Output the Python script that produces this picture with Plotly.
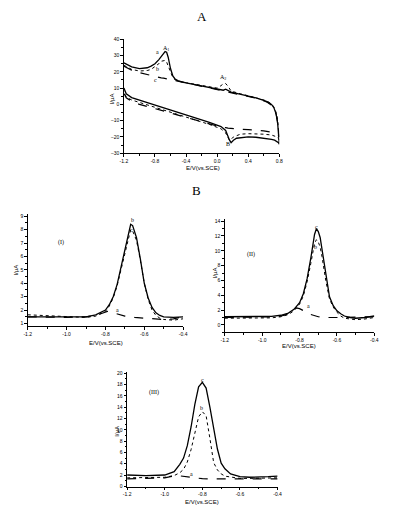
import plotly.graph_objects as go

# ---------------- Panel A: cyclic voltammograms ----------------
cv_x_up = [-1.2, -1.15, -1.1, -1.0, -0.9, -0.85, -0.8, -0.75, -0.72, -0.69, -0.67, -0.65, -0.63, -0.6, -0.57, -0.54, -0.5,
           -0.4, -0.3, -0.2, -0.1, 0.0, 0.05, 0.08, 0.11, 0.14, 0.18, 0.25, 0.3, 0.4, 0.5, 0.6, 0.65, 0.7, 0.73, 0.76, 0.78, 0.8]
cv_a_up = [25.5, 24, 23, 22, 22.5, 23.5, 25, 27.5, 29.5, 31.5, 32.5, 32, 29, 22, 17.5, 15.5, 14.5,
           13.2, 12.2, 11.2, 10.2, 9.2, 8.8, 8.7, 9.3, 8.6, 7.6, 6.8, 6.3, 5.2, 4.0, 2.5, 1.5, 0, -2, -6, -12, -24]
cv_b_up = [24, 22.5, 21.5, 20.5, 20.8, 21.5, 23, 25, 26.5, 27, 27, 26, 23.5, 19, 16.5, 15.2, 14.3,
           13.3, 12.4, 11.5, 10.6, 10.0, 11.5, 12.7, 12.8, 11.2, 8.2, 7.0, 6.5, 5.3, 4.1, 2.7, 1.7, 0.3, -1.5, -5, -10, -22]
cv_c_up = [23.5, 22, 21, 19.5, 18.2, 17.6, 17.0, 16.6, 16.3, 16.1, 16.0, 15.8, 15.6, 15.3, 15.0, 14.6, 14.2,
           13.2, 12.2, 11.2, 10.2, 9.2, 8.7, 8.4, 8.1, 7.8, 7.4, 6.7, 6.2, 5.1, 3.8, 2.2, 1.2, -0.5, -2.5, -6, -11, -20]

cv_x_dn = [0.8, 0.79, 0.77, 0.74, 0.7, 0.6, 0.5, 0.4, 0.3, 0.25, 0.21, 0.18, 0.16, 0.14, 0.11, 0.05, 0.0,
           -0.1, -0.2, -0.3, -0.4, -0.5, -0.6, -0.7, -0.8, -0.9, -1.0, -1.1, -1.17, -1.2]
cv_a_dn = [-24.5, -23.5, -22.8, -22, -21.5, -20.8, -20.2, -20, -20.3, -20.8, -22, -23.5, -22, -19, -16, -13.6, -12.6,
           -11.0, -9.5, -8.0, -6.5, -4.9, -3.4, -1.9, -0.4, 1.3, 2.8, 4.2, 6.5, 10]
cv_b_dn = [-22, -21, -20, -19.3, -18.8, -18.3, -18, -18, -18.3, -19, -20, -21.5, -22, -20.5, -17.5, -15, -14,
           -12.3, -10.8, -9.3, -7.8, -6.3, -4.8, -3.3, -1.9, -0.5, 1.0, 2.7, 4.5, 8]
cv_c_dn = [-20, -19, -18.2, -17.5, -17, -16.3, -15.8, -15.5, -15.3, -15.2, -15, -14.9, -14.8, -14.6, -14.3, -13.8, -13.3,
           -12, -10.6, -9.2, -7.8, -6.5, -5.2, -3.9, -2.6, -1.3, 0, 2, 4, 7]

# ---------------- Panel B (I) ----------------
p1_x = [-1.2, -1.1, -1.0, -0.9, -0.85, -0.82, -0.80, -0.78, -0.76, -0.74, -0.72, -0.70, -0.68, -0.67, -0.66,
        -0.64, -0.62, -0.60, -0.58, -0.56, -0.54, -0.52, -0.5, -0.45, -0.4]
p1_b = [1.5, 1.5, 1.45, 1.5, 1.65, 1.85, 2.0, 2.4, 3.0, 3.9, 5.2, 6.7, 8.0, 8.4, 8.3,
        7.4, 5.8, 4.0, 2.9, 2.2, 1.8, 1.6, 1.5, 1.45, 1.5]
p1_c = [1.65, 1.6, 1.5, 1.45, 1.55, 1.75, 1.9, 2.3, 2.9, 3.8, 5.0, 6.4, 7.6, 8.0, 7.9,
        7.2, 5.7, 4.0, 2.8, 2.0, 1.6, 1.4, 1.3, 1.25, 1.35]
p1_ax = [-1.2, -1.0, -0.9, -0.85, -0.82, -0.79, -0.77, -0.74, -0.70, -0.65, -0.6, -0.55, -0.5, -0.45, -0.4]
p1_a = [1.5, 1.45, 1.5, 1.6, 1.75, 1.9, 1.85, 1.7, 1.55, 1.45, 1.4, 1.35, 1.3, 1.35, 1.5]

# ---------------- Panel B (II) ----------------
p2_x = [-1.2, -1.1, -1.0, -0.95, -0.9, -0.86, -0.83, -0.80, -0.78, -0.76, -0.74, -0.73, -0.72, -0.71, -0.70,
        -0.69, -0.68, -0.66, -0.64, -0.62, -0.60, -0.58, -0.56, -0.53, -0.5, -0.45, -0.4]
p2_c = [1.1, 1.1, 1.1, 1.15, 1.3, 1.6, 2.1, 3.0, 4.2, 6.2, 9.0, 10.8, 12.2, 13.0, 12.6,
        11.8, 10.2, 6.4, 3.8, 2.6, 1.9, 1.5, 1.2, 1.0, 0.9, 1.0, 1.2]
p2_b = [0.9, 0.9, 0.9, 0.95, 1.1, 1.4, 1.9, 2.8, 3.9, 5.8, 8.3, 9.8, 11.0, 11.5, 11.2,
        10.5, 9.2, 6.0, 3.5, 2.4, 1.7, 1.2, 0.9, 0.8, 0.7, 0.8, 1.0]
p2_ax = [-1.2, -1.0, -0.92, -0.88, -0.85, -0.82, -0.80, -0.77, -0.74, -0.70, -0.66, -0.6, -0.5, -0.4]
p2_a = [1.0, 1.0, 1.1, 1.3, 1.7, 2.3, 2.2, 1.8, 1.4, 1.1, 1.0, 1.0, 1.0, 1.1]

# ---------------- Panel B (III) ----------------
p3_x = [-1.2, -1.1, -1.0, -0.95, -0.92, -0.90, -0.88, -0.86, -0.84, -0.82, -0.80, -0.78, -0.76, -0.74,
        -0.72, -0.70, -0.68, -0.65, -0.6, -0.55, -0.5, -0.45, -0.4]
p3_c = [2.0, 1.9, 2.0, 2.6, 3.9, 5.0, 7.2, 10.5, 14.5, 17.6, 18.4, 17.4, 14.0, 10.0,
        6.6, 4.1, 3.1, 2.2, 1.7, 1.6, 1.6, 1.7, 1.8]
p3_b = [1.5, 1.5, 1.6, 1.9, 2.4, 3.0, 4.3, 6.5, 9.5, 12.3, 13.2, 12.5, 8.5, 4.2,
        2.9, 2.2, 1.8, 1.6, 1.4, 1.4, 1.4, 1.45, 1.5]
p3_ax = [-1.2, -1.05, -1.0, -0.97, -0.94, -0.92, -0.9, -0.87, -0.84, -0.8, -0.75, -0.7, -0.6, -0.5, -0.4]
p3_a = [1.3, 1.35, 1.5, 1.7, 1.9, 1.85, 1.75, 1.6, 1.45, 1.35, 1.3, 1.3, 1.3, 1.3, 1.3]

W, H = 394, 514

def fx(px):
    return px / W

def fy(py):
    return 1 - py / H

SOLID = dict(color="black", width=1.3, dash="solid")
DOT = dict(color="black", width=1.0, dash="dot")
DASH = dict(color="black", width=1.2, dash="dash")

fig = go.Figure()

def add(x, y, line, ax):
    fig.add_trace(go.Scatter(x=x, y=y, mode="lines", line=line, xaxis="x" + ax, yaxis="y" + ax,
                             showlegend=False, hoverinfo="skip"))

add(cv_x_up + cv_x_dn, cv_c_up + cv_c_dn, DASH, "")
add(cv_x_up + cv_x_dn, cv_b_up + cv_b_dn, DOT, "")
add(cv_x_up + cv_x_dn, cv_a_up + cv_a_dn, SOLID, "")

add(p1_ax, p1_a, DASH, "2")
add(p1_x, p1_c, DOT, "2")
add(p1_x, p1_b, SOLID, "2")

add(p2_ax, p2_a, DASH, "3")
add(p2_x, p2_b, DOT, "3")
add(p2_x, p2_c, SOLID, "3")

add(p3_ax, p3_a, DASH, "4")
add(p3_x, p3_b, DOT, "4")
add(p3_x, p3_c, SOLID, "4")

TICKFONT = dict(family="Liberation Sans", size=5, color="black")
XT = [-1.2, -1.0, -0.8, -0.6, -0.4]
XTT = ["-1.2", "-1.0", "-0.8", "-0.6", "-0.4"]

def axis(dom, rng, dtick, mdtick, anchor, tickvals=None, ticktext=None):
    d = dict(domain=dom, range=rng, dtick=dtick, showline=True, linecolor="black", linewidth=1,
             ticks="outside", ticklen=2.5, tickwidth=0.8, tickcolor="black", showgrid=False, zeroline=False,
             tickfont=TICKFONT, anchor=anchor, fixedrange=True,
             minor=dict(ticks="outside", ticklen=1.5, dtick=mdtick, tickcolor="black", showgrid=False))
    if tickvals is not None:
        d["tickvals"] = tickvals
        d["ticktext"] = ticktext
        d.pop("dtick")
    return d

fig.update_layout(
    width=W, height=H, margin=dict(l=0, r=0, t=0, b=0),
    paper_bgcolor="white", plot_bgcolor="white",
    xaxis=axis([fx(122.7), fx(281.7)], [-1.2, 0.8], 0.4, 0.2, "y",
               tickvals=[-1.2, -0.8, -0.4, 0.0, 0.4, 0.8], ticktext=["-1.2", "-0.8", "-0.4", "0.0", "0.4", "0.8"]),
    yaxis=axis([fy(152), fy(36.7)], [-30, 40], 10, 5, "x"),
    xaxis2=axis([fx(24.3), fx(183.3)], [-1.2, -0.4], 0.2, 0.1, "y2", tickvals=XT, ticktext=XTT),
    yaxis2=axis([fy(327), fy(213)], [0.8, 9.2], 1, 0.5, "x2"),
    xaxis3=axis([fx(226), fx(379)], [-1.2, -0.4], 0.2, 0.1, "y3", tickvals=XT, ticktext=XTT),
    yaxis3=axis([fy(333.2), fy(218.5)], [-1, 14.3], 2, 1, "x3"),
    xaxis4=axis([fx(126), fx(280)], [-1.2, -0.4], 0.2, 0.1, "y4", tickvals=XT, ticktext=XTT),
    yaxis4=axis([fy(489.3), fy(373)], [-0.05, 20.3], 2, 1, "x4"),
)

SERIF = "Liberation Serif"
SANS = "Liberation Sans"
notes = [
    # (text, x px, y px, size, family, angle)
    ("A", 203, 14, 13, SERIF, 0),
    ("B", 197, 190, 13, SERIF, 0),
    ("E/V(vs.SCE)", 204, 167, 6, SANS, 0),
    ("I/μA", 110, 97, 6, SANS, -90),
    ("a", 157.5, 50, 6, SERIF, 0),
    ("A<sub>1</sub>", 166, 46, 6, SERIF, 0),
    ("b", 157.5, 66.5, 6, SERIF, 0),
    ("c", 155.5, 78, 6, SERIF, 0),
    ("A<sub>2</sub>", 224, 75, 6, SERIF, 0),
    ("B", 229.5, 142.5, 6, SERIF, 0),
    # (I)
    ("(I)", 58, 242, 6, SERIF, 0),
    ("b", 131.5, 220, 6, SERIF, 0),
    ("c", 130, 230, 6, SERIF, 0),
    ("a", 116, 311, 6, SERIF, 0),
    ("I/μA", 12, 270, 6, SANS, -90),
    ("E/V(vs.SCE)", 104, 344, 6, SANS, 0),
    # (II)
    ("(II)", 252.5, 254, 6, SERIF, 0),
    ("c", 319.5, 226.5, 6, SERIF, 0),
    ("b", 318.5, 247, 6, SERIF, 0),
    ("a", 311.5, 306.5, 6, SERIF, 0),
    ("I/μA", 215.5, 273, 6, SANS, -90),
    ("E/V(vs.SCE)", 302, 347, 6, SANS, 0),
    # (III)
    ("(III)", 153.5, 394, 6, SERIF, 0),
    ("c", 203, 381, 6, SERIF, 0),
    ("b", 202, 410, 6, SERIF, 0),
    ("a", 191.5, 477, 6, SERIF, 0),
    ("I/μA", 115.5, 433, 6, SANS, -90),
    ("E/V(vs.SCE)", 203, 505, 6, SANS, 0),
]
for t, x, y, s, fam, ang in notes:
    fig.add_annotation(text=t, x=fx(x), y=fy(y), xref="paper", yref="paper", showarrow=False,
                       font=dict(family=fam, size=s, color="black"), textangle=ang,
                       xanchor="center", yanchor="middle")

fig.write_html("out.html")
